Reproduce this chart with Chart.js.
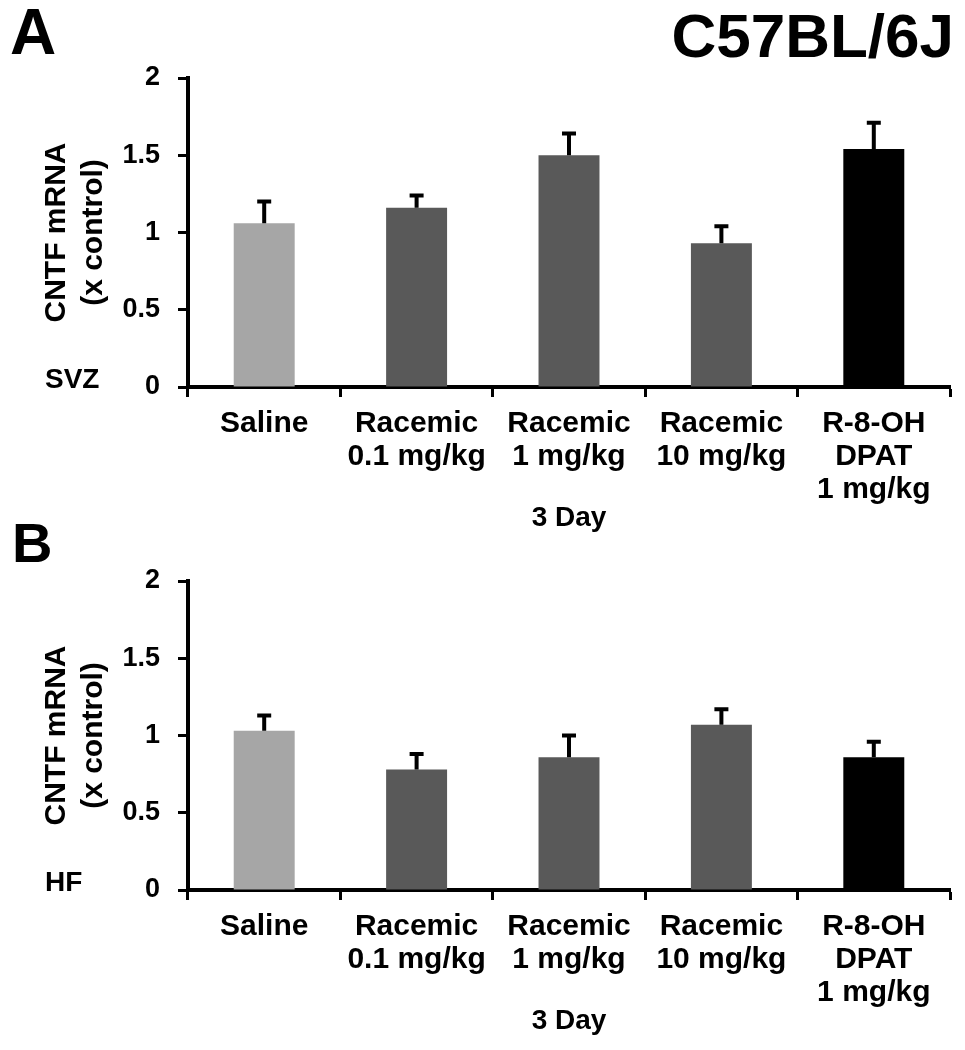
<!DOCTYPE html>
<html>
<head>
<meta charset="utf-8">
<script src="https://cdn.jsdelivr.net/npm/chart.js@4.4.0/dist/chart.umd.min.js"></script>
<style>
    body { margin: 0; background: #fff; width: 965px; height: 1050px; position: relative; overflow: hidden; font-family: "Liberation Sans", Arial, sans-serif; }
    .panel { position: absolute; left: 0; width: 965px; height: 545px; }
    .big { position: absolute; font-weight: bold; line-height: 1; color: #000; }
</style>
</head>
<body>
<div class="panel" style="top:0"><canvas id="chartA"></canvas></div>
<div class="panel" style="top:503px"><canvas id="chartB"></canvas></div>
<div class="big" style="left:10px;top:0px;font-size:64px">A</div>
<div class="big" style="left:12px;top:515px;font-size:56px">B</div>
<div class="big" style="right:11px;top:5px;font-size:62px">C57BL/6J</div>
<script>
// values
var groups = [['Saline'], ['Racemic', '0.1 mg/kg'], ['Racemic', '1 mg/kg'], ['Racemic', '10 mg/kg'], ['R-8-OH', 'DPAT', '1 mg/kg']];
var svzMean = [1.06, 1.16, 1.50, 0.93, 1.54];
var svzSem = [0.14, 0.08, 0.14, 0.11, 0.17];
var hfMean = [1.03, 0.78, 0.86, 1.07, 0.86];
var hfSem = [0.10, 0.10, 0.14, 0.10, 0.10];
var barColors = ['#a6a6a6', '#595959', '#595959', '#595959', '#000000'];
var yTicks = [0, 0.5, 1, 1.5, 2];

Chart.defaults.font.family = '"Liberation Sans", Arial, sans-serif';
Chart.defaults.color = '#000';

// upper error bars only
var errorBars = {
    id: 'errorBars',
    afterDatasetsDraw: function (chart, args, opts) {
        var ctx = chart.ctx;
        var meta = chart.getDatasetMeta(0);
        var yScale = chart.scales.y;
        ctx.save();
        ctx.strokeStyle = '#000';
        ctx.lineWidth = 4;
        meta.data.forEach(function (bar, i) {
            var top = yScale.getPixelForValue(opts.mean[i] + opts.sem[i]);
            ctx.beginPath();
            ctx.moveTo(bar.x, bar.y);
            ctx.lineTo(bar.x, top);
            ctx.moveTo(bar.x - 7, top);
            ctx.lineTo(bar.x + 7, top);
            ctx.stroke();
        });
        ctx.restore();
    }
};

// region label (SVZ / HF) next to the zero tick
var regionLabel = {
    id: 'regionLabel',
    afterDraw: function (chart, args, opts) {
        var ctx = chart.ctx;
        ctx.save();
        ctx.font = 'bold 28px "Liberation Sans", Arial, sans-serif';
        ctx.fillStyle = '#000';
        ctx.textBaseline = 'middle';
        ctx.fillText(opts.text, 45, chart.scales.y.getPixelForValue(0) - 7);
        ctx.restore();
    }
};

function makePanel(id, mean, sem, region) {
    var ctx = document.getElementById(id).getContext('2d');
    return new Chart(ctx, {
        type: 'bar',
        data: {
            labels: groups,
            datasets: [{
                data: mean,
                backgroundColor: barColors,
                borderWidth: 0,
                categoryPercentage: 1,
                barPercentage: 0.4
            }]
        },
        options: {
            responsive: true,
            maintainAspectRatio: false,
            animation: false,
            layout: { padding: { top: 78, right: 15, left: 0, bottom: 0 } },
            plugins: {
                legend: { display: false },
                tooltip: { enabled: false },
                errorBars: { mean: mean, sem: sem },
                regionLabel: { text: region }
            },
            scales: {
                x: {
                    grid: { offset: true, drawOnChartArea: false, tickLength: 10, tickWidth: 3, tickColor: '#000' },
                    border: { color: '#000', width: 4 },
                    ticks: { color: '#000', font: { size: 30, weight: 'bold', lineHeight: 1.1 }, padding: 10, maxRotation: 0, autoSkip: false },
                    title: { display: true, text: '3 Day', color: '#000', font: { size: 28, weight: 'bold', lineHeight: 1.2 }, padding: { top: 0, bottom: 10 } },
                    afterFit: function (s) { s.height = 158; }
                },
                y: {
                    min: 0,
                    max: 2,
                    afterBuildTicks: function (s) { s.ticks = yTicks.map(function (v) { return { value: v }; }); },
                    grid: { drawOnChartArea: false, tickLength: 10, tickWidth: 3, tickColor: '#000' },
                    border: { color: '#000', width: 4 },
                    ticks: { color: '#000', font: { size: 27, weight: 'bold' }, padding: 18, callback: function (v) { return String(v); } },
                    title: { display: true, text: ['CNTF mRNA', '(x control)'], color: '#000', font: { size: 30, weight: 'bold', lineHeight: 1.23 }, padding: { top: 38, bottom: 0 } },
                    afterFit: function (s) { s.width = 188; }
                }
            }
        },
        plugins: [errorBars, regionLabel]
    });
}

makePanel('chartA', svzMean, svzSem, 'SVZ');
makePanel('chartB', hfMean, hfSem, 'HF');
</script>
</body>
</html>
